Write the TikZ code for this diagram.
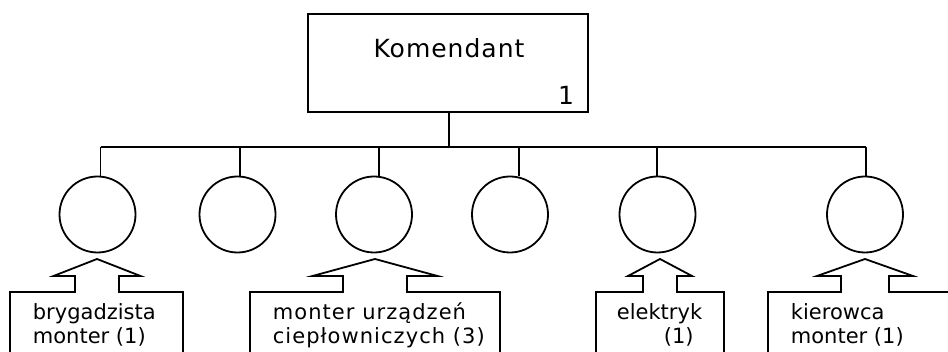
\documentclass[tikz,border=0pt]{standalone}
\usepackage{fontspec}
\setmainfont{DejaVu Sans}
\newfontfamily\bossfont[LetterSpace=4]{DejaVu Sans}
\newfontfamily\widefont[LetterSpace=5]{DejaVu Sans}
\usetikzlibrary{positioning}

\begin{document}
\begin{tikzpicture}[x=1pt, y=-1pt, line width=1.8pt,
	boss/.style={draw, rectangle, minimum width=280pt, minimum height=98pt, inner sep=0pt},
	post/.style={draw, circle, minimum size=76pt, inner sep=0pt},
	job/.style={align=left, anchor=base west, inner sep=0pt, font=\fontsize{21}{24}\selectfont}]
	\useasboundingbox (0,0) rectangle (948,352);
	\clip (0,0) rectangle (948,352);
	
	%Komendant
	\node[boss] (k) at (448,63) {};
	\node[font=\bossfont\fontsize{25}{28}\selectfont, anchor=base] (kname) at (449,58) {Komendant};
	\node[font=\fontsize{25}{28}\selectfont, anchor=base east, inner sep=0pt] (knum) at (575,105) {1};
	
	%Stanowiska
	\foreach \n/\x in {1/97.5, 2/237.5, 3/374, 4/510, 5/657.5, 6/865}
		\node[post] (c\n) at (\x,214.5) {};
	
	%Linie
	\coordinate (bus) at (449,147);
	\foreach \n/\dx in {1/3, 2/2.5, 3/5, 4/9, 5/-0.5, 6/1}
		\coordinate (t\n) at ([xshift=\dx pt]c\n.north);
	\draw ([xshift=1pt]k.south) -- (bus);
	\draw (t1 |- bus) -- (t6 |- bus);
	\foreach \n in {1,...,6}
		\draw (t\n) -- (t\n |- bus);
	
	%Zrodla
	\foreach \cx/\l/\r/\h/\s in {97/10/183/43.5/22, 375/250/500/62.5/32, 660/596/724/32/17, 865/768/960/48/24}
		\draw (\l,360) -- (\l,292) -- (\cx-\s,292) -- (\cx-\s,276) -- (\cx-\h,276) -- (\cx,259)
			-- (\cx+\h,276) -- (\cx+\s,276) -- (\cx+\s,292) -- (\r,292) -- (\r,360);
	
	\node[job] (j1) at (32,344) {brygadzista\\monter (1)};
	\node[job, font=\widefont\fontsize{21}{24}\selectfont] (j3) at (272,344) {monter urządzeń\\ciepłowniczych (3)};
	\node[job] (j5) at (616,344) {elektryk\\\hspace*{47pt}(1)};
	\node[job] (j6) at (790,344) {kierowca\\monter (1)};
	
\end{tikzpicture}
\end{document}
